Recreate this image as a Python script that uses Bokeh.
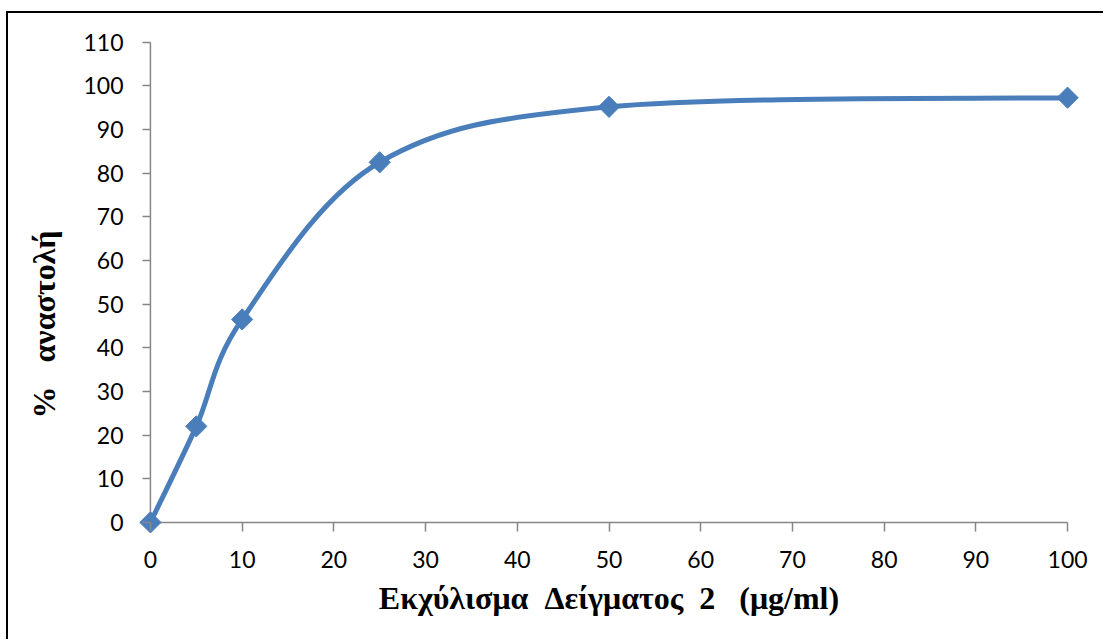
from bokeh.plotting import figure
from bokeh.models import Range1d, FixedTicker, ColumnDataSource
from bokeh.embed import file_html
from bokeh.resources import INLINE

# ---- data ----
conc = [0, 5, 10, 25, 50, 100]
inhibition = [0.0, 22.0, 46.5, 82.5, 95.2, 97.3]
x_ticks = [0, 10, 20, 30, 40, 50, 60, 70, 80, 90, 100]
y_ticks = [0, 10, 20, 30, 40, 50, 60, 70, 80, 90, 100, 110]
x_label = "Εκχύλισμα\u00a0\u00a0Δείγματος\u00a0\u00a02\u00a0\u00a0\u00a0(μg/ml)"
y_label = "%\u00a0\u00a0\u00a0αναστολή" + "\u00a0" * 10

LINE = "#4A7EBB"
AXIS = "#868686"

# smoothed line (Catmull-Rom style bezier segments, like a spreadsheet "smoothed line")
n = len(conc)
segs = dict(x0=[], y0=[], x1=[], y1=[], cx0=[], cy0=[], cx1=[], cy1=[])
for i in range(n - 1):
    xp, yp = conc[max(i - 1, 0)], inhibition[max(i - 1, 0)]
    xa, ya = conc[i], inhibition[i]
    xb, yb = conc[i + 1], inhibition[i + 1]
    xn, yn = conc[min(i + 2, n - 1)], inhibition[min(i + 2, n - 1)]
    segs["x0"].append(xa); segs["y0"].append(ya)
    segs["x1"].append(xb); segs["y1"].append(yb)
    segs["cx0"].append(xa + (xb - xp) / 6.0); segs["cy0"].append(ya + (yb - yp) / 6.0)
    segs["cx1"].append(xb - (xn - xa) / 6.0); segs["cy1"].append(yb - (yn - ya) / 6.0)

p = figure(width=1097, height=628,
           x_range=Range1d(-2.5, 102.5), y_range=Range1d(-3, 112),
           output_backend="svg", toolbar_location=None,
           min_border_left=119, min_border_right=15,
           min_border_top=20, min_border_bottom=106)
p.styles = {"border-left": "2px solid black", "border-top": "2px solid black",
            "margin-top": "11px", "margin-left": "6px"}
p.outline_line_color = None
p.grid.visible = False
p.background_fill_color = "white"

# axis rules along the zero lines
p.segment(x0=[x_ticks[0], 0], y0=[0, y_ticks[0]], x1=[x_ticks[-1], 0], y1=[0, y_ticks[-1]],
          line_color=AXIS, line_width=1.5)

p.bezier(source=ColumnDataSource(segs), x0="x0", y0="y0", x1="x1", y1="y1",
         cx0="cx0", cy0="cy0", cx1="cx1", cy1="cy1",
         line_color=LINE, line_width=5, line_cap="round")
p.scatter(conc, inhibition, marker="square", angle=0.785398, size=15,
          fill_color=LINE, line_color=LINE)

for ax, ticks, bnds in ((p.xaxis[0], x_ticks, (0, 100)), (p.yaxis[0], y_ticks, (0, 110))):
    ax.bounds = bnds
    ax.ticker = FixedTicker(ticks=ticks)
    ax.axis_line_color = None
    ax.minor_tick_line_color = None
    ax.major_tick_line_color = AXIS
    ax.major_tick_line_width = 1.5
    ax.major_label_text_font = "Lato"
    ax.major_label_text_font_size = "23px"
    ax.major_label_text_color = "black"
    ax.axis_label_text_font = "Liberation Serif"
    ax.axis_label_text_font_style = "bold"
    ax.axis_label_text_font_size = "32px"
    ax.axis_label_text_color = "black"

xa_ = p.xaxis[0]
xa_.major_tick_in = 13
xa_.major_tick_out = -4
xa_.minor_tick_in = 0
xa_.minor_tick_out = -4
xa_.major_label_standoff = 15
xa_.axis_label_standoff = 9
xa_.axis_label = x_label

ya_ = p.yaxis[0]
ya_.major_tick_in = 23
ya_.major_tick_out = -15
ya_.minor_tick_in = 0
ya_.minor_tick_out = -15
ya_.major_label_standoff = 4
ya_.axis_label_standoff = 18
ya_.axis_label = y_label

open("out.html", "w").write(file_html(p, INLINE))
